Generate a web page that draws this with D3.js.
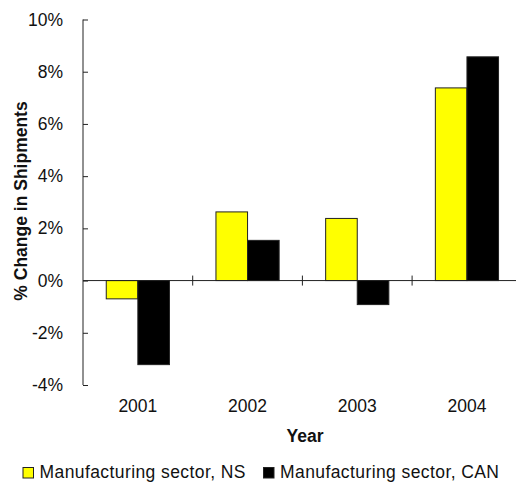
<!DOCTYPE html>
<html>
<head>
<meta charset="utf-8">
<script src="https://cdn.jsdelivr.net/npm/d3@7"></script>
<style>
  html, body { margin: 0; padding: 0; background: #fff; }
  svg { display: block; font-family: Arial, "Liberation Sans", sans-serif; }
</style>
</head>
<body>
<svg id="chart" width="516" height="483"></svg>
<script>
// Year-over-year % change in manufacturing shipments
const years = ["2001", "2002", "2003", "2004"];
const seriesNames = ["Manufacturing sector, NS", "Manufacturing sector, CAN"];
const nsValues = [-0.70, 2.63, 2.38, 7.38];
const canValues = [-3.22, 1.54, -0.92, 8.57];
const yTicks = [-4, -2, 0, 2, 4, 6, 8, 10];
const seriesColors = ["#ffff00", "#000000"];

const svg = d3.select("#chart");
const fontSize = 17.5;

const plot = { left: 83, right: 521.8, top: 19.5, bottom: 385 };

const y = d3.scaleLinear().domain([-4, 10]).range([plot.bottom, plot.top]);
const x = d3.scaleBand().domain(years).range([plot.left, plot.right]).padding(0);
const xs = d3.scaleBand().domain(seriesNames).range([0, x.bandwidth()])
  .paddingInner(0).paddingOuter(0.736);

const rows = years.map((yr, i) => ({
  year: yr,
  values: [
    { name: seriesNames[0], v: nsValues[i], color: seriesColors[0] },
    { name: seriesNames[1], v: canValues[i], color: seriesColors[1] }
  ]
}));

// Bars
const groups = svg.append("g").selectAll("g").data(rows).join("g")
  .attr("transform", d => `translate(${x(d.year)},0)`);
groups.selectAll("rect").data(d => d.values).join("rect")
  .attr("x", d => xs(d.name))
  .attr("width", xs.bandwidth())
  .attr("y", d => y(Math.max(0, d.v)))
  .attr("height", d => Math.abs(y(d.v) - y(0)))
  .attr("fill", d => d.color)
  .attr("stroke", "#222")
  .attr("stroke-width", 1);

// Y axis (ticks pointing into the plot)
const yAxis = svg.append("g")
  .attr("transform", `translate(${plot.left},0)`)
  .call(d3.axisLeft(y).tickValues(yTicks).tickSize(-5).tickPadding(20)
    .tickFormat(d => d + "%"));
yAxis.selectAll("path, line").attr("stroke", "#222");
yAxis.selectAll("text").attr("font-size", fontSize).attr("fill", "#111")
  .attr("font-family", "Arial, 'Liberation Sans', sans-serif");
yAxis.select(".domain").attr("d", `M0,${plot.top}V${plot.bottom}`);

// Zero line with crossing category ticks
const xAxis = svg.append("g").attr("transform", `translate(0,${y(0)})`);
xAxis.append("line")
  .attr("x1", plot.left).attr("x2", plot.right)
  .attr("stroke", "#222");
xAxis.selectAll("line.tick").data(years.slice(1).concat(["end"])).join("line")
  .attr("class", "tick")
  .attr("x1", d => d === "end" ? plot.right : x(d))
  .attr("x2", d => d === "end" ? plot.right : x(d))
  .attr("y1", -5).attr("y2", 5)
  .attr("stroke", "#222");

// Year labels
svg.append("g").selectAll("text").data(years).join("text")
  .attr("x", d => x(d) + x.bandwidth() / 2)
  .attr("y", 412)
  .attr("text-anchor", "middle")
  .attr("font-size", fontSize)
  .attr("fill", "#111")
  .text(d => d);

// Axis titles
svg.append("text")
  .attr("x", 305).attr("y", 442)
  .attr("text-anchor", "middle")
  .attr("font-size", fontSize)
  .attr("font-weight", "bold")
  .attr("fill", "#111")
  .text("Year");

svg.append("text")
  .attr("transform", `translate(27,201) rotate(-90)`)
  .attr("text-anchor", "middle")
  .attr("font-size", fontSize)
  .attr("font-weight", "bold")
  .attr("fill", "#111")
  .text("% Change in Shipments");

// Legend
const legendX = [23, 263.5];
const legendTextLen = [206, 219];
const legend = svg.append("g").selectAll("g").data(seriesNames).join("g")
  .attr("transform", (d, i) => `translate(${legendX[i]},0)`);
legend.append("rect")
  .attr("x", 0).attr("y", 467.5)
  .attr("width", 10.5).attr("height", 10.5)
  .attr("fill", (d, i) => seriesColors[i])
  .attr("stroke", "#222");
legend.append("text")
  .attr("x", 16.5).attr("y", 477.5)
  .attr("font-size", fontSize)
  .attr("fill", "#111")
  .attr("textLength", (d, i) => legendTextLen[i])
  .attr("lengthAdjust", "spacing")
  .text(d => d);
</script>
</body>
</html>
